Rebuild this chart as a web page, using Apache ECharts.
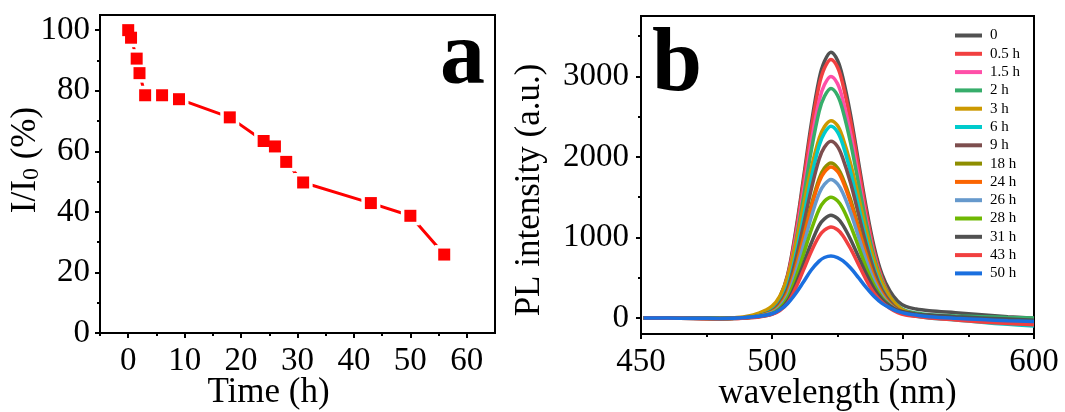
<!DOCTYPE html>
<html>
<head>
<meta charset="utf-8">
<script src="https://cdn.jsdelivr.net/npm/echarts@6/dist/echarts.min.js"></script>
<style>
html,body{margin:0;padding:0;background:#fff;}
#c{width:1065px;height:412px;}
</style>
</head>
<body>
<div id="c"></div>
<script>
// ---------- Panel a data ----------
const timeH = [0, 0.5, 1.5, 2, 3, 6, 9, 18, 24, 26, 28, 31, 43, 50, 56];
const ratioPct = [100, 97.5, 90.6, 85.8, 78.5, 78.5, 77.2, 71.2, 63.4, 61.6, 56.5, 49.7, 42.9, 38.7, 25.9];
const timeTicks = [0, 10, 20, 30, 40, 50, 60];
const timeMinor = [-5, 5, 15, 25, 35, 45, 55];
const pctTicks = [0, 20, 40, 60, 80, 100];
const pctMinor = [10, 30, 50, 70, 90];

// ---------- Panel b data ----------
const wl = [451,460,470,480,485,490,495,500,503,506,509,512,515,518,520,522.5,525,527,530,533,536,539,542,545,548,551,555,560,570,580,590,600];
const names = ['0','0.5 h','1.5 h','2 h','3 h','6 h','9 h','18 h','24 h','26 h','28 h','31 h','43 h','50 h'];
const colors = ['#515151','#F14040','#FF4FA8','#37AD6B','#CC9900','#00CBCC','#7D4E4E','#8E8E00','#FB6501','#6699CC','#6FB802','#515151','#F14040','#1A6FDF'];
const pl0  = [0,-2,-5,-8,-5,5,35,120,260,540,1070,1730,2410,2970,3185,3300,3200,2990,2520,1940,1365,880,540,335,207,143,110,90,65,40,15,-5];
const pl05 = [0,-3,-6,-10,-8,2,30,115,250,525,1040,1685,2345,2890,3100,3210,3115,2905,2445,1880,1310,825,490,270,140,70,40,20,0,-25,-50,-80];
const pl15 = [0,-2,-5,-9,-6,5,33,115,245,500,980,1575,2190,2700,2895,3000,2910,2715,2285,1755,1225,775,460,255,135,70,40,18,-5,-25,-45,-60];
const pl2  = [0,-2,-4,-8,-6,3,30,110,230,475,930,1495,2080,2565,2750,2850,2765,2580,2175,1675,1175,755,455,265,150,90,60,40,25,15,5,0];
const pl3  = [0,-2,-4,-5,0,18,60,147,270,515,905,1395,1860,2230,2375,2450,2390,2240,1915,1510,1080,710,435,260,145,80,45,20,5,-15,-35,-55];
const pl6  = [0,-3,-6,-10,-7,2,27,92,190,395,775,1250,1740,2140,2295,2380,2310,2155,1810,1390,970,615,360,200,100,50,20,0,-25,-55,-80,-100];
const pl9  = [0,-2,-5,-8,-5,4,27,85,178,365,715,1150,1600,1975,2120,2195,2130,1985,1675,1290,905,580,345,200,105,60,35,20,0,-15,-30,-40];
const pl18 = [0,-2,-4,-7,-5,3,23,75,155,320,625,1010,1405,1730,1860,1925,1865,1740,1470,1130,795,505,305,175,95,55,30,15,-5,-25,-45,-60];
const pl24 = [0,-3,-5,-8,-6,2,22,72,150,310,610,985,1370,1690,1810,1875,1820,1700,1430,1105,775,495,300,170,95,55,30,12,-8,-30,-50,-70];
const pl26 = [0,-2,-4,-7,-5,2,20,65,137,283,558,902,1254,1546,1658,1720,1665,1555,1310,1010,710,455,275,160,90,50,30,15,-3,-20,-35,-50];
const pl28 = [0,-2,-4,-7,-5,2,18,57,120,248,488,788,1095,1350,1450,1500,1455,1360,1145,885,625,405,250,150,80,50,30,15,0,-15,-30,-40];
const pl31 = [0,-2,-4,-6,-4,2,15,48,102,210,414,669,930,1150,1230,1275,1235,1155,975,760,545,360,230,150,95,70,50,35,15,0,-15,-30];
const pl43 = [0,-3,-6,-10,-8,0,12,43,90,186,367,593,825,1015,1090,1130,1095,1025,860,665,470,305,195,120,65,35,20,0,-25,-50,-70,-85];
const pl50 = [0,-2,-4,-6,-4,5,20,52,100,180,300,445,595,705,750,770,750,710,620,500,375,265,180,125,80,55,35,15,-5,-20,-35,-45];
const plData = [pl0,pl05,pl15,pl2,pl3,pl6,pl9,pl18,pl24,pl26,pl28,pl31,pl43,pl50];
const wlTicks = [450, 500, 550, 600];
const wlMinor = [475, 525, 575];
const plTicks = [0, 1000, 2000, 3000];
const plMinor = [500, 1500, 2500, 3500];

const FONT = "'Liberation Serif', 'Times New Roman', serif";
const BLACK = '#000';

function mainAxis(gridIndex, position, min, max, ticks, labelMargin, extra) {
  return Object.assign({
    type: 'value', gridIndex, position, min, max,
    nameMoveOverlap: false,
    axisLine: { show: true, onZero: false, lineStyle: { color: BLACK, width: 2 } },
    axisTick: { show: true, customValues: ticks, length: 5, lineStyle: { color: BLACK, width: 2 } },
    axisLabel: { customValues: ticks, color: BLACK, fontFamily: FONT, fontSize: 33, margin: labelMargin,
      formatter: v => String(v) },
    splitLine: { show: false }
  }, extra || {});
}
function minorAxis(gridIndex, position, min, max, ticks) {
  return {
    type: 'value', gridIndex, position, min, max,
    axisLine: { show: false, onZero: false },
    axisTick: { show: true, customValues: ticks, length: 3, lineStyle: { color: BLACK, width: 2 } },
    axisLabel: { show: false },
    splitLine: { show: false }
  };
}

const pts = timeH.map((t, i) => [t, ratioPct[i]]);

const series = [
  { type: 'line', data: pts, xAxisIndex: 0, yAxisIndex: 0, showSymbol: false, silent: true,
    lineStyle: { color: '#FF0000', width: 3 }, z: 2 },
  { type: 'scatter', data: pts, xAxisIndex: 0, yAxisIndex: 0, symbol: 'rect', symbolSize: 19, silent: true,
    itemStyle: { color: '#FFFFFF', opacity: 1 }, z: 3 },
  { type: 'scatter', data: pts, xAxisIndex: 0, yAxisIndex: 0, symbol: 'rect', symbolSize: 12, silent: true,
    itemStyle: { color: '#FF0000', opacity: 1 }, z: 4 }
];
plData.forEach((arr, k) => {
  series.push({
    name: names[k], type: 'line', xAxisIndex: 2, yAxisIndex: 2,
    data: wl.map((w, i) => [w, arr[i]]),
    showSymbol: false, smooth: 0.35, silent: true,
    lineStyle: { color: colors[k], width: 3.5 }, itemStyle: { color: colors[k] }, z: 2
  });
});

const option = {
  animation: false,
  backgroundColor: '#fff',
  grid: [
    { left: 100, top: 15, width: 395, height: 318, show: true, borderColor: BLACK, borderWidth: 2,
      backgroundColor: 'transparent', outerBoundsMode: 'none', containLabel: false },
    { left: 641, top: 16, width: 393, height: 318, show: true, borderColor: BLACK, borderWidth: 2,
      backgroundColor: 'transparent', outerBoundsMode: 'none', containLabel: false }
  ],
  xAxis: [
    mainAxis(0, 'bottom', -5, 65, timeTicks, 12, { name: 'Time (h)', nameLocation: 'middle', nameGap: 42,
      nameTextStyle: { color: BLACK, fontFamily: FONT, fontSize: 35, padding: [0, 58, 0, 0] } }),
    minorAxis(0, 'bottom', -5, 65, timeMinor),
    mainAxis(1, 'bottom', 450, 600, wlTicks, 12, { name: 'wavelength (nm)', nameLocation: 'middle', nameGap: 42,
      nameTextStyle: { color: BLACK, fontFamily: FONT, fontSize: 35 } }),
    minorAxis(1, 'bottom', 450, 600, wlMinor)
  ],
  yAxis: [
    mainAxis(0, 'left', 0, 105, pctTicks, 10, { name: 'I/I{s|0} (%)', nameLocation: 'middle', nameGap: 56,
      nameTextStyle: { color: BLACK, fontFamily: FONT, fontSize: 35, padding: [0, 0, 0, 28],
        rich: { s: { fontFamily: FONT, fontSize: 24, color: BLACK, verticalAlign: 'bottom', padding: [12, 0, 0, 0] } } } }),
    minorAxis(0, 'left', 0, 105, pctMinor),
    mainAxis(1, 'left', -200, 3750, plTicks, 12, { name: 'PL intensity (a.u.)', nameLocation: 'middle', nameGap: 94,
      nameTextStyle: { color: BLACK, fontFamily: FONT, fontSize: 35, padding: [0, 30, 0, 0] } }),
    minorAxis(1, 'left', -200, 3750, plMinor)
  ],
  legend: {
    data: names, orient: 'vertical', left: 950, top: 23,
    icon: 'rect', itemWidth: 27, itemHeight: 4, itemGap: 3.3,
    selectedMode: false,
    textStyle: { color: BLACK, fontFamily: FONT, fontSize: 15, lineHeight: 15, padding: [0, 0, 0, 3] }
  },
  graphic: [
    { type: 'text', left: 440, top: 15, z: 10, style: { text: 'a', fill: BLACK, font: 'bold 90px ' + FONT } },
    { type: 'text', left: 652, top: 22, z: 10, style: { text: 'b', fill: BLACK, font: 'bold 90px ' + FONT } }
  ],
  series
};

const chart = echarts.init(document.getElementById('c'), null, { renderer: 'canvas' });
chart.setOption(option);
</script>
</body>
</html>
